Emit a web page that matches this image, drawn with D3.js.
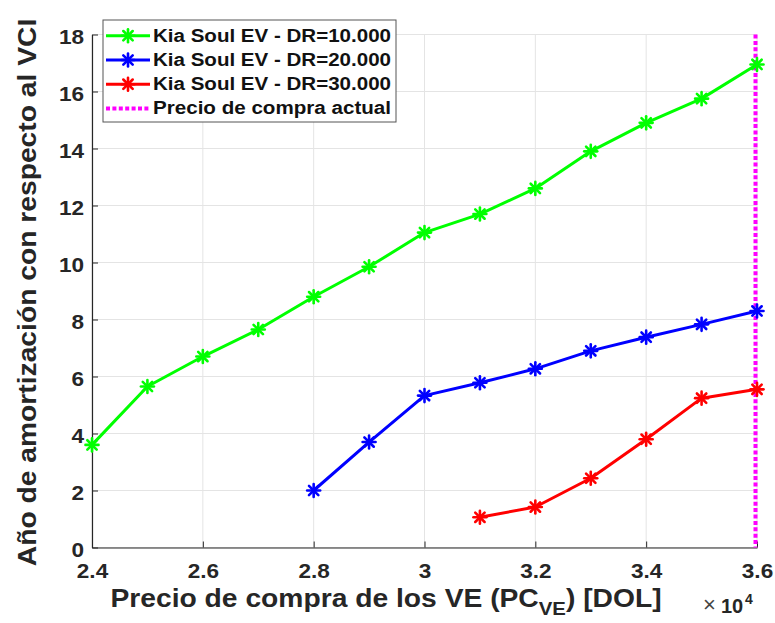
<!DOCTYPE html>
<html>
<head>
<meta charset="utf-8">
<script src="https://cdn.jsdelivr.net/npm/d3@7"></script>
<style>
  body { margin: 0; background: #fff; }
  svg { display: block; font-family: "Liberation Sans", Arial, sans-serif; }
</style>
</head>
<body>
<svg id="chart" width="775" height="623"></svg>
<script>
// Purchase price (USD) for each series
const priceGreen = [24000, 25000, 26000, 27000, 28000, 29000, 30000, 31000, 32000, 33000, 34000, 35000, 36000];
const priceBlue  = [28000, 29000, 30000, 31000, 32000, 33000, 34000, 35000, 36000];
const priceRed   = [31000, 32000, 33000, 34000, 35000, 36000];

// Payback year relative to the ICE vehicle
const yearsDR10 = [3.6, 5.65, 6.7, 7.65, 8.8, 9.85, 11.05, 11.7, 12.6, 13.9, 14.9, 15.75, 16.95];
const yearsDR20 = [2.0, 3.7, 5.33, 5.78, 6.27, 6.9, 7.38, 7.83, 8.3];
const yearsDR30 = [1.06, 1.42, 2.43, 3.8, 5.24, 5.55];

const seriesNames = ["Kia Soul EV - DR=10.000", "Kia Soul EV - DR=20.000", "Kia Soul EV - DR=30.000"];
const currentPriceName = "Precio de compra actual";
const currentPrice = 36000;

const xTicks = [24000, 26000, 28000, 30000, 32000, 34000, 36000];
const yTicks = [0, 2, 4, 6, 8, 10, 12, 14, 16, 18];

const svg = d3.select("#chart");
const pL = 92, pR = 757, pT = 34.5, pB = 547.5;
const widen = 1.13;   // horizontal stretch applied to the labels

const x = d3.scaleLinear().domain([24000, 36000]).range([pL, pR]);
const y = d3.scaleLinear().domain([0, 18]).range([pB, pT]);

// grid
const grid = svg.append("g");
grid.selectAll("line.v").data(xTicks).enter().append("line")
  .attr("x1", d => x(d)).attr("x2", d => x(d))
  .attr("y1", pT).attr("y2", pB)
  .attr("stroke", "#e4e4e4").attr("stroke-width", 1);
grid.selectAll("line.h").data(yTicks).enter().append("line")
  .attr("x1", pL).attr("x2", pR)
  .attr("y1", d => y(d)).attr("y2", d => y(d))
  .attr("stroke", "#e4e4e4").attr("stroke-width", 1);

// axes
const axisColor = "#262626";
const xAxis = svg.append("g").attr("transform", `translate(0,${pB})`)
  .call(d3.axisBottom(x).tickValues(xTicks).tickSizeInner(-6).tickSizeOuter(0)
    .tickPadding(16).tickFormat(d => d3.format("~g")(d / 10000)));
const yAxis = svg.append("g").attr("transform", `translate(${pL},0)`)
  .call(d3.axisLeft(y).tickValues(yTicks).tickSizeInner(-6).tickSizeOuter(0)
    .tickPadding(7));
[xAxis, yAxis].forEach(a => {
  a.select(".domain").attr("stroke", axisColor).attr("stroke-width", 1.2);
  a.selectAll(".tick line").attr("stroke", axisColor).attr("stroke-width", 1);
  a.selectAll(".tick text").attr("fill", "#262626")
    .attr("transform", `scale(${widen},1)`)
    .style("font-size", "20px").style("font-weight", "bold")
    .style("font-family", "'Liberation Sans', Arial, sans-serif");
});
yAxis.selectAll(".tick text").attr("dy", "0.45em");

// series
const series = [
  { xs: priceGreen, ys: yearsDR10, color: "#00ff00" },
  { xs: priceBlue,  ys: yearsDR20, color: "#0000ff" },
  { xs: priceRed,   ys: yearsDR30, color: "#ff0000" }
];

const line = d3.line().x(d => x(d[0])).y(d => y(d[1]));

function asterisk(g, cx, cy, color, r) {
  const a = r * 0.72;
  const segs = [[-r, 0, r, 0], [0, -r, 0, r], [-a, -a, a, a], [-a, a, a, -a]];
  g.append("g").selectAll("line").data(segs).enter().append("line")
    .attr("x1", s => cx + s[0]).attr("y1", s => cy + s[1])
    .attr("x2", s => cx + s[2]).attr("y2", s => cy + s[3])
    .attr("stroke", color).attr("stroke-width", 2.6).attr("stroke-linecap", "round");
}

// current purchase price
svg.append("line")
  .attr("x1", x(currentPrice) - 1.5).attr("x2", x(currentPrice) - 1.5)
  .attr("y1", pT).attr("y2", pB)
  .attr("stroke", "#ff00ff").attr("stroke-width", 4)
  .attr("stroke-dasharray", "4,2.4");

series.forEach(s => {
  const pts = s.xs.map((v, i) => [v, s.ys[i]]);
  svg.append("path").datum(pts).attr("d", line)
    .attr("fill", "none").attr("stroke", s.color).attr("stroke-width", 3)
    .attr("stroke-linejoin", "round");
  const mg = svg.append("g");
  pts.forEach(p => asterisk(mg, x(p[0]), y(p[1]), s.color, 6.5));
});

// axis labels
svg.append("text")
  .attr("transform", `translate(36,292.5) rotate(-90) scale(${widen},1)`)
  .attr("text-anchor", "middle")
  .style("font-size", "25px").style("font-weight", "bold").attr("fill", "#262626")
  .text("Año de amortización con respecto al VCI");

const xl = svg.append("text")
  .attr("transform", `translate(386,606.5) scale(${widen},1)`)
  .attr("text-anchor", "middle")
  .style("font-size", "25px").style("font-weight", "bold").attr("fill", "#262626");
xl.append("tspan").text("Precio de compra de los VE (PC");
xl.append("tspan").attr("dy", 8).style("font-size", "18px").text("VE");
xl.append("tspan").attr("dy", -8).text(") [DOL]");

// exponent of the x axis
svg.append("text").attr("x", 703).attr("y", 612)
  .style("font-size", "22px").attr("fill", "#444").text("×");
svg.append("text").attr("x", 721).attr("y", 612.5)
  .style("font-size", "20px").style("font-weight", "bold").attr("fill", "#262626").text("10");
svg.append("text").attr("x", 745).attr("y", 604)
  .style("font-size", "14px").style("font-weight", "bold").attr("fill", "#262626").text("4");

// legend
const lg = svg.append("g");
lg.append("rect").attr("x", 103).attr("y", 20).attr("width", 293).attr("height", 102)
  .attr("fill", "#fff").attr("stroke", "#555").attr("stroke-width", 1);
const rows = [35.7, 60, 84.2, 108.4];
const legendText = (label, ry) => lg.append("text")
  .attr("x", 153).attr("y", ry + 6)
  .attr("textLength", 238).attr("lengthAdjust", "spacingAndGlyphs")
  .style("font-size", "17.5px").style("font-weight", "bold").attr("fill", "#111")
  .text(label);
series.forEach((s, i) => {
  lg.append("line").attr("x1", 106).attr("x2", 150).attr("y1", rows[i]).attr("y2", rows[i])
    .attr("stroke", s.color).attr("stroke-width", 3);
  asterisk(lg, 128, rows[i], s.color, 6.5);
  legendText(seriesNames[i], rows[i]);
});
lg.append("line").attr("x1", 106).attr("x2", 150).attr("y1", rows[3]).attr("y2", rows[3])
  .attr("stroke", "#ff00ff").attr("stroke-width", 4).attr("stroke-dasharray", "4,2.4");
legendText(currentPriceName, rows[3]);
</script>
</body>
</html>
